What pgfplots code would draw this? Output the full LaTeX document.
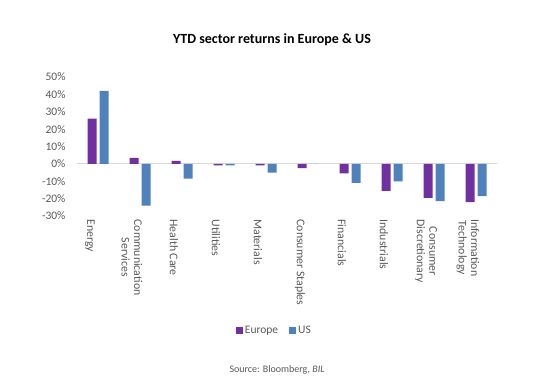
\documentclass[border=0pt]{standalone}
\usepackage{pgfplots}
\pgfplotsset{compat=1.18}
\usepackage{fontspec}
\setmainfont{Carlito}
\definecolor{eur}{HTML}{7030A0}
\definecolor{us}{HTML}{4F81BD}
\definecolor{txt}{HTML}{595959}
\definecolor{zl}{HTML}{D9D9D9}
\begin{document}
\begin{tikzpicture}
\path[use as bounding box] (0pt,0pt) rectangle (553pt,385pt);
\node[font=\fontsize{14}{16}\selectfont\bfseries] at (272pt,345pt) {YTD sector returns in Europe \& US};
\node[font=\fontsize{10}{12}\selectfont, text=txt] at (277pt,15pt) {Source: Bloomberg, \textit{BIL}};
\begin{axis}[
  at={(77pt,169pt)}, anchor=south west,
  scale only axis, width=420pt, height=139pt,
  xmin=-0.5, xmax=9.5, ymin=-30, ymax=50,
  ybar, bar width=9pt,
  axis line style={draw=none},
  major tick length=0pt,
  ytick={-30,-20,-10,0,10,20,30,40,50},
  yticklabels={-30\%,-20\%,-10\%,0\%,10\%,20\%,30\%,40\%,50\%},
  extra y ticks={0}, extra y tick labels={},
  extra y tick style={grid=major, grid style={zl, line width=1pt}},
  xtick={0,...,9},
  xticklabels={Energy,{Communication\\Services},Health Care,Utilities,Materials,Consumer Staples,Financials,Industrials,{Consumer\\Discretionary},{Information\\Technology}},
  x tick label style={rotate=-90, anchor=west, align=center, font=\fontsize{11.8}{12.5}\selectfont, text=txt, yshift=-8pt},
  y tick label style={font=\fontsize{11.5}{13}\selectfont, text=txt, xshift=-8pt},
  /pgf/number format/assume math mode=true,
  legend columns=2,
  legend style={draw=none, at={(0.470,-0.827)}, anchor=center, font=\fontsize{11.5}{13}\selectfont, text=txt, nodes={inner xsep=2pt}, /tikz/every even column/.append style={column sep=9pt}},
  legend image code/.code={\fill[#1] (0pt,-3.5pt) rectangle (7pt,3.5pt);},
]
\addplot[fill=eur, draw=none, bar shift=-6pt] coordinates {(0,26) (1,3.5) (2,1.8) (3,-0.8) (4,-0.8) (5,-2.5) (6,-5.5) (7,-15.5) (8,-19.5) (9,-22)};
\addplot[fill=us, draw=none, bar shift=6pt] coordinates {(0,42) (1,-24) (2,-8.5) (3,-0.8) (4,-5) (5,0) (6,-11) (7,-10) (8,-21.5) (9,-18.5)};
\legend{Europe,US}
\end{axis}
\end{tikzpicture}
\end{document}
